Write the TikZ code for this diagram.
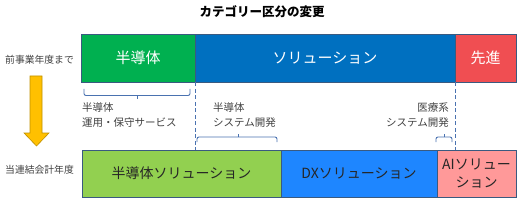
\documentclass[tikz,border=0pt]{standalone}
\usepackage{fontspec}
\setmainfont{Noto Sans CJK JP}
\begin{document}
\begin{tikzpicture}[x=1pt,y=-1pt,
  box/.style={draw=boxline,line width=0.7pt,minimum height=48pt,inner sep=0pt,align=center},
  toptext/.style={text=white,font=\fontsize{15}{16}\selectfont},
  bottext/.style={text=black!85,font=\fontsize{14}{16}\selectfont},
  small/.style={text=black!75,font=\fontsize{10.5}{15}\selectfont,inner sep=0pt},
  side/.style={text=black!75,font=\fontsize{9.8}{12}\selectfont,inner sep=0pt,anchor=west},
  bracket/.style={draw=brk,line width=0.9pt,rounded corners=2pt},
  guide/.style={draw=brk,line width=0.8pt,dash pattern=on 4pt off 2.5pt}]
\definecolor{boxline}{HTML}{3A5A80}
\definecolor{cgreen}{HTML}{00B050}
\definecolor{cblue}{HTML}{0070C0}
\definecolor{cred}{HTML}{F04E52}
\definecolor{clgreen}{HTML}{92D050}
\definecolor{cdx}{HTML}{1E86FF}
\definecolor{cpink}{HTML}{FF9999}
\definecolor{brk}{HTML}{4A72B0}
\definecolor{yfill}{HTML}{FFC000}
\definecolor{yline}{HTML}{C09000}
\useasboundingbox (0,0) rectangle (521,203);

\node[font=\bfseries\fontsize{12.5}{14}\selectfont] (title) at (262,12) {カテゴリー区分の変更};

% top row
\node[box,toptext,fill=cgreen,minimum width=114pt] (g1) at (138,58) {半導体};
\node[box,toptext,fill=cblue,minimum width=260pt] (b1) at (325,58) {ソリューション};
\node[box,toptext,fill=cred,minimum width=61pt] (r1) at (485.5,58) {先進};

% bottom row
\node[box,bottext,fill=clgreen,minimum width=199pt,minimum height=47pt] (lg) at (181.5,173.5) {半導体ソリューション};
\node[box,bottext,fill=cdx,minimum width=156pt,minimum height=47pt] (dx) at (359,173.5) {DXソリューション};
\node[box,bottext,fill=cpink,minimum width=79pt,minimum height=47pt,font=\fontsize{14}{18}\selectfont] (ai) at (476.5,173.5) {AIソリュー\\ション};

% side labels
\node[side] (l1) at (5,60) {前事業年度まで};
\node[side] (l2) at (5,170) {当連結会計年度};

% yellow arrow
\coordinate (ytop) at (36,76);
\coordinate (ytip) at (36.5,146);
\filldraw[fill=yfill,draw=yline,line width=0.6pt]
  (30,76) -- (42,76) -- (42,133) -- (49,133) -- (ytip) -- (24,133) -- (30,133) -- cycle;

% dashed guides
\coordinate (d1) at (g1.south east |- lg.north);
\coordinate (d2) at (b1.south east |- ai.north);
\draw[guide] (g1.south east) -- (d1);
\draw[guide] (b1.south east) -- (d2);

% brackets
\draw[bracket] (84,89) -- (84,95.5) -- (190,95.5) -- (190,89);
\draw[draw=brk,line width=0.9pt] (137,95.5) -- (137,99);
\draw[bracket] (197,142) -- (197,137) -- (277,137) -- (277,142);
\draw[draw=brk,line width=0.9pt] (238,137) -- (238,133.5);
\draw[bracket] (436,142) -- (436,137) -- (452,137) -- (452,142);
\draw[draw=brk,line width=0.9pt] (444,137) -- (444,133.5);

% small labels
\node[small,align=left,anchor=west] (s1) at (82,115.5) {半導体\\運用・保守サービス};
\node[small,align=left,anchor=west] (s2) at (213,115.5) {半導体\\システム開発};
\node[small,align=right,anchor=east] (s3) at (449,115.5) {医療系\\システム開発};
\end{tikzpicture}
\end{document}
